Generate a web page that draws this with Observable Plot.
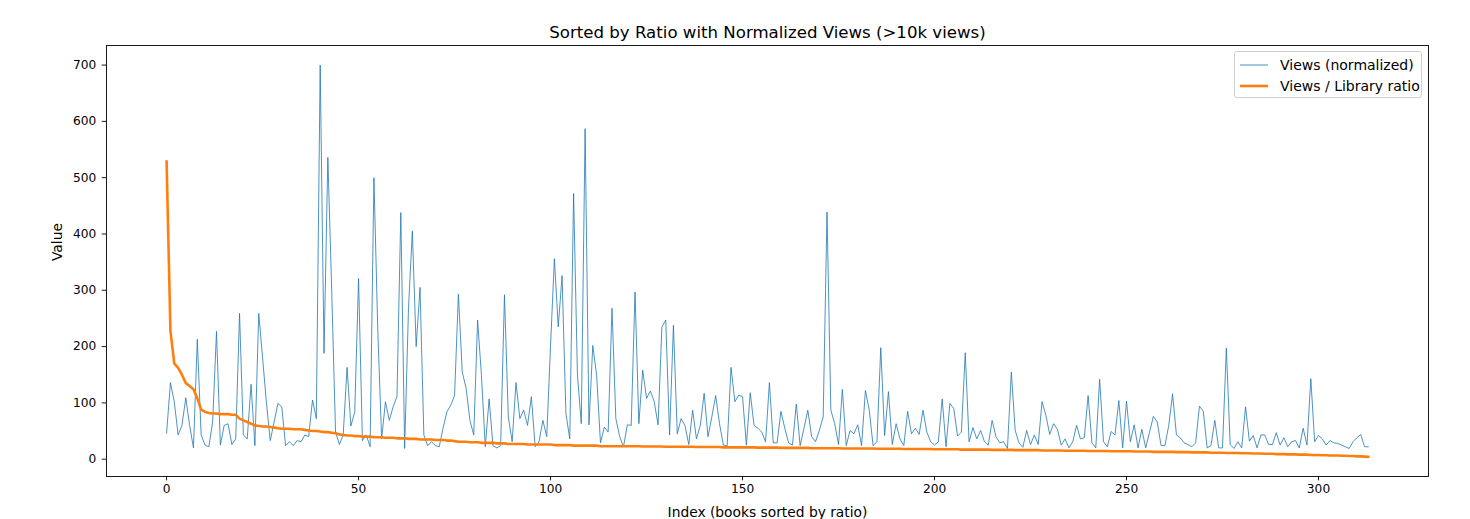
<!DOCTYPE html>
<html>
<head>
<meta charset="utf-8">
<script src="https://cdn.jsdelivr.net/npm/d3@7"></script>
<script src="https://cdn.jsdelivr.net/npm/@observablehq/plot@0.6"></script>
<style>
  html, body { margin: 0; padding: 0; background: white; }
  #wrap { position: relative; width: 1470px; height: 519px; font-family: "DejaVu Sans", sans-serif; }
  #legend { position: absolute; left: 1234px; top: 51px; width: 188px; height: 47px;
    border: 1px solid #d0d0d0; border-radius: 3px; background: rgba(255,255,255,0.85);
    font-size: 14px; color: #000; box-sizing: border-box; }
  .item { position: absolute; left: 5px; height: 18px; display: flex; align-items: center; white-space: nowrap; }
  .item svg { margin-right: 12px; }
</style>
</head>
<body>
<div id="wrap"><div id="chart"></div><div id="legend"></div></div>
<script>
const title = "Sorted by Ratio with Normalized Views (>10k views)";
const xLabel = "Index (books sorted by ratio)";
const yLabel = "Value";
const seriesNames = ["Views (normalized)", "Views / Library ratio"];
const seriesColors = ["#1f77b4", "#ff7f0e"];
const xTicks = [0, 50, 100, 150, 200, 250, 300];
const yTicks = [0, 100, 200, 300, 400, 500, 600, 700];

const viewsNormalized = [
  46,136,102,43,60,109,60,20,213,43,
  25,22,66,227,25,60,63,26,36,259,
  43,36,133,24,259,180,100,33,66,99,
  93,24,31,24,33,31,43,40,105,72,
  700,188,536,300,48,26,43,163,59,84,
  321,33,43,22,500,230,36,102,69,93,
  111,438,19,268,405,200,305,43,24,31,
  24,22,55,84,96,113,293,155,126,69,
  43,247,149,22,107,24,20,24,292,75,
  31,136,72,87,60,111,22,31,69,40,
  202,356,235,326,81,36,472,150,63,587,
  61,202,149,29,57,48,268,72,40,22,
  61,60,297,63,158,108,121,102,61,235,
  247,43,238,45,72,60,26,87,36,60,
  117,40,75,113,63,25,24,163,102,114,
  111,25,118,60,55,48,31,136,29,29,
  85,55,29,25,98,24,55,87,40,31,
  51,75,439,87,63,26,124,24,51,45,
  61,24,122,87,24,31,198,42,120,26,
  63,36,24,85,45,55,44,87,48,31,
  25,31,107,22,99,90,41,48,189,31,
  56,36,51,31,25,69,40,29,31,19,
  155,51,29,21,51,26,43,26,102,78,
  44,63,53,25,36,20,31,60,36,38,
  113,29,20,142,31,22,49,43,104,20,
  103,31,61,20,53,20,48,76,66,24,
  24,60,116,43,38,29,26,22,29,94,
  85,20,24,69,20,20,197,26,19,31,
  20,93,32,42,20,43,43,26,26,47,
  25,38,22,31,33,20,55,25,143,31,
  42,36,25,33,29,28,25,22,19,31,
  38,44,22,22
];

const viewsLibraryRatio = [
  529,228,170,162,150,135,130,124,108,88,
  84,82,81,81,80,80,80,79,79,72,
  69,66,63,60,59,58,58,57,56,55,
  54,54,54,53,53,53,52,51,50,50,
  49,48,48,47,46,44,43,42,42,41,
  41,40,40,40,39,39,39,38,38,38,
  37,37,37,36,36,36,35,35,35,35,
  34,34,34,33,33,32,31,31,31,30,
  30,30,29,29,29,29,28,28,28,27,
  27,27,27,27,26,26,26,26,26,26,
  26,25,25,25,25,25,24,24,24,24,
  24,24,24,23,23,23,23,23,23,23,
  23,23,23,23,22.5,22.5,22.5,22.5,22.5,22.5,
  22,22,22,22,22,22,22,22,21.5,21.5,
  21.5,21.5,21.5,21.5,21.5,21,21,21,21,21,
  21,21,21,21,20.5,20.5,20.5,20.5,20.5,20.5,
  20,20,20,20,20,20,20,20,19.5,19.5,
  19.5,19.5,19.5,19.5,19.5,19.5,19,19,19,19,
  19,19,19,19,19,18.5,18.5,18.5,18.5,18.5,
  18.5,18.5,18,18,18,18,18,18,18,18,
  17.5,17.5,17.5,17.5,17.5,17.5,17.5,17,17,17,
  17,17,17,17,17,16.5,16.5,16.5,16.5,16.5,
  16.5,16,16,16,16,16,16,16,15.5,15.5,
  15.5,15.5,15.5,15.5,15,15,15,15,15,15,
  14.5,14.5,14.5,14.5,14.5,14.5,14,14,14,14,
  14,14,13.5,13.5,13.5,13.5,13.5,13,13,13,
  13,13,13,12.5,12.5,12.5,12.5,12,12,12,
  12,12,11.5,11.5,11.5,11.5,11,11,11,11,
  10.5,10.5,10.5,10,10,10,9.5,9.5,9.5,9,
  9,9,8.5,8.5,8.5,8,8,8,7.5,7.5,
  7.5,7,7,6.5,6.5,6.5,6,6,5.5,5.5,
  5,5,4.5,4
];

const n = viewsNormalized.length;
const allVals = viewsNormalized.concat(viewsLibraryRatio);
const yMin = d3.min(allVals), yMax = d3.max(allVals);
const xPad = (n - 1) * 0.05, yPad = (yMax - yMin) * 0.05;

const chart = Plot.plot({
  width: 1470,
  height: 519,
  marginLeft: 106,
  marginRight: 42,
  marginTop: 45,
  marginBottom: 43,
  style: { fontFamily: "DejaVu Sans", fontSize: "12.2px", color: "#000", background: "white", overflow: "visible" },
  x: { domain: [-xPad, n - 1 + xPad] },
  y: { domain: [yMin - yPad, yMax + yPad] },
  marks: [
    Plot.lineY(viewsNormalized, { x: (d, i) => i, y: d => d, stroke: seriesColors[0], strokeWidth: 0.8 }),
    Plot.lineY(viewsLibraryRatio, { x: (d, i) => i, y: d => d, stroke: seriesColors[1], strokeWidth: 2.6 }),
    Plot.frame({ stroke: "#000", strokeWidth: 0.9 }),
    Plot.axisX({ ticks: xTicks, tickSize: 4.3, tickPadding: 4, strokeWidth: 0.9, label: null }),
    Plot.axisY({ ticks: yTicks, tickSize: 4.3, tickPadding: 6, strokeWidth: 0.9, label: null }),
    Plot.text([xLabel], { frameAnchor: "bottom", dy: 40, fontSize: 13.8, fill: "#000" }),
    Plot.text([yLabel], { frameAnchor: "left", dx: -49, rotate: -90, fontSize: 13.8, fill: "#000" }),
    Plot.text([title], { frameAnchor: "top", dy: -19, fontSize: 16.6, fill: "#000" })
  ]
});
document.getElementById("chart").appendChild(chart);

const legend = document.getElementById("legend");
seriesNames.forEach((name, i) => {
  const item = document.createElement("div");
  item.className = "item";
  item.style.top = (i === 0 ? 4 : 25) + "px";
  const w = i === 0 ? 0.8 : 2.6;
  item.innerHTML = `<svg width="28" height="10"><line x1="0" x2="28" y1="5" y2="5" stroke="${seriesColors[i]}" stroke-width="${w}"/></svg><span>${name}</span>`;
  legend.appendChild(item);
});
</script>
</body>
</html>
